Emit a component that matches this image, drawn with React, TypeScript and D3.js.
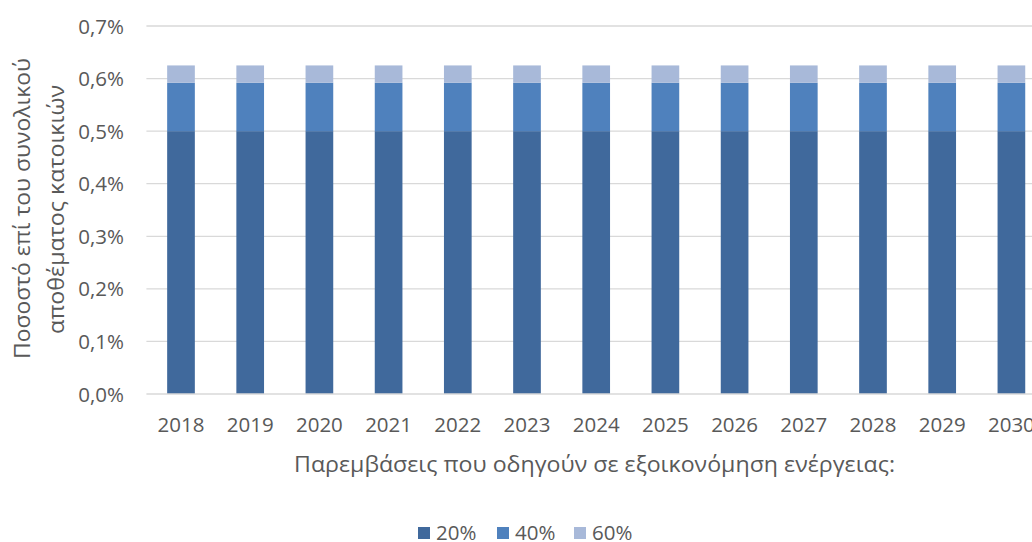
import React from "react";
import * as d3 from "d3";

const years = ["2018","2019","2020","2021","2022","2023","2024","2025","2026","2027","2028","2029","2030"];
const seriesNames = ["20%", "40%", "60%"];
const s20 = [0.5,0.5,0.5,0.5,0.5,0.5,0.5,0.5,0.5,0.5,0.5,0.5,0.5];
const s40 = [0.092,0.092,0.092,0.092,0.092,0.092,0.092,0.092,0.092,0.092,0.092,0.092,0.092];
const s60 = [0.033,0.033,0.033,0.033,0.033,0.033,0.033,0.033,0.033,0.033,0.033,0.033,0.033];
const yTicks = [0, 0.1, 0.2, 0.3, 0.4, 0.5, 0.6, 0.7];
const colors = ["#40699C", "#4F81BD", "#A8B9D9"];
const yTitle = ["Ποσοστό επί του συνολικού", "αποθέματος κατοικιών"];
const xTitle = "Παρεμβάσεις που οδηγούν σε εξοικονόμηση ενέργειας:";

export default function App() {
  const W = 1032, H = 542;
  const left = 146.4, plotTop = 26, plotBottom = 394;
  const band = 69.2;
  const x = d3.scaleBand<string>().domain(years).range([left, left + band * years.length]).paddingInner(0.6).paddingOuter(0.3);
  const y = d3.scaleLinear().domain([0, 0.7]).range([plotBottom, plotTop]);
  const rows = years.map((yr, i) => ({ year: yr, a: s20[i], b: s40[i], c: s60[i] }));
  const stack = d3.stack<any>().keys(["a", "b", "c"]);
  const stacked = stack(rows);
  const font = "'Open Sans', sans-serif";
  const fs = 20.5;
  const fmt = (v: number) => v.toFixed(1).replace(".", ",") + "%";
  const legendX = [418, 497, 574];
  return (
    <svg width={W} height={H} style={{ position: "absolute", left: 0, top: 0, background: "#fff" }} fontFamily={font}>
      {yTicks.filter(t => t > 0).map(t => (
        <line key={t} x1={left} x2={W} y1={y(t)} y2={y(t)} stroke="#D9D9D9" strokeWidth={1.3} />
      ))}
      {stacked.map((layer, li) => (
        <g key={li} fill={colors[li]}>
          {layer.map((d, i) => (
            <rect key={i} x={x(years[i])} width={x.bandwidth()} y={y(d[1])} height={y(d[0]) - y(d[1])} />
          ))}
        </g>
      ))}
      <line x1={left} x2={W} y1={y(0)} y2={y(0)} stroke="#D9D9D9" strokeWidth={1.3} />
      {yTicks.map(t => (
        <text key={t} x={124} y={y(t) + 7.5} textAnchor="end" fontSize={fs} fill="#595959">{fmt(t)}</text>
      ))}
      {years.map(yr => (
        <text key={yr} x={(x(yr) as number) + x.bandwidth() / 2} y={432} textAnchor="middle" fontSize={fs} fill="#595959">{yr}</text>
      ))}
      <text x={594.5} y={472} textAnchor="middle" fontSize={22} fill="#595959" textLength={601} lengthAdjust="spacingAndGlyphs">{xTitle}</text>
      <g transform="translate(29.5,208.5) rotate(-90)">
        <text x={0} y={0} textAnchor="middle" fontSize={22} fill="#595959" textLength={301} lengthAdjust="spacingAndGlyphs">{yTitle[0]}</text>
        <text x={-1} y={34} textAnchor="middle" fontSize={22} fill="#595959" textLength={249} lengthAdjust="spacingAndGlyphs">{yTitle[1]}</text>
      </g>
      {seriesNames.map((n, i) => (
        <g key={n}>
          <rect x={legendX[i]} y={527} width={12} height={12} fill={colors[i]} />
          <text x={legendX[i] + 18} y={540} fontSize={20.5} fill="#595959">{n}</text>
        </g>
      ))}
    </svg>
  );
}
